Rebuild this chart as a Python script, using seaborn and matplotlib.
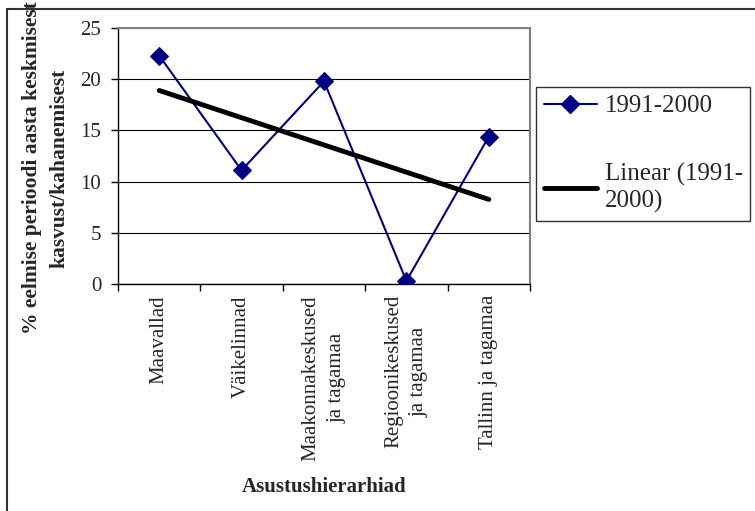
import numpy as np
import pandas as pd
import matplotlib
matplotlib.use("Agg")
import matplotlib.pyplot as plt
from matplotlib.lines import Line2D
import seaborn as sns

categories = ["Maavallad", "Väikelinnad", "Maakonnakeskused\nja tagamaa",
              "Regioonikeskused\nja tagamaa", "Tallinn ja tagamaa"]
values = [22.3, 11.1, 19.8, 0.3, 14.4]
series_name = "1991-2000"
trend_name = "Linear (1991-\n2000)"

sns.set_style("white")
plt.rcParams["font.family"] = ["Liberation Serif", "DejaVu Serif"]

df = pd.DataFrame({"pos": np.arange(len(categories)), "value": values})

fig = plt.figure(figsize=(7.55, 5.11), dpi=100)
ax = fig.add_axes([118 / 755, 1 - 284 / 511, 412 / 755, 256 / 511])

sns.lineplot(data=df, x="pos", y="value", ax=ax, color="#000080", lw=1.5,
             marker="D", markersize=9.5, markeredgecolor="#000080", zorder=3)
sns.regplot(data=df, x="pos", y="value", ax=ax, scatter=False, ci=None,
            truncate=True, line_kws={"color": "black", "lw": 3.5, "zorder": 4})

ax.set_xlim(-0.5, len(categories) - 0.5)
ax.set_ylim(0, 25)
ax.set_yticks(range(0, 26, 5))
ax.yaxis.grid(True, color="black", lw=0.8)
ax.set_axisbelow(True)

ax.set_xticks(np.arange(len(categories)))
ax.set_xticklabels(categories, rotation=90, ha="center", va="top",
                   multialignment="center", fontsize=15, linespacing=1.45)
ax.set_xticks(np.arange(-0.5, len(categories)), minor=True)
ax.tick_params(axis="x", which="major", length=0, pad=8)
ax.tick_params(axis="x", which="minor", length=5, width=1, color="black",
               direction="out", bottom=True)
ax.tick_params(axis="y", length=5, width=1, color="black", direction="out",
               left=True, labelsize=15, pad=7)

for side in ["left", "bottom"]:
    ax.spines[side].set_color("black")
    ax.spines[side].set_linewidth(1)
for side in ["top", "right"]:
    ax.spines[side].set_visible(True)
    ax.spines[side].set_color("#808080")
    ax.spines[side].set_linewidth(1.5)

ax.set_xlabel("Asustushierarhiad", fontsize=15, fontweight="bold", labelpad=12)
ax.set_ylabel("")
fig.text(46 / 755, 1 - 168 / 511,
         "% eelmise perioodi aasta keskmisest\nkasvust/kahanemisest",
         rotation=90, ha="center", va="center", multialignment="center",
         fontsize=15.5, fontweight="bold", linespacing=1.5)

handles = [Line2D([], [], color="#000080", lw=1.5, marker="D", markersize=9.5),
           Line2D([], [], color="black", lw=3.5)]
leg = fig.legend(handles, [series_name, trend_name], loc="center left",
                 bbox_to_anchor=(536 / 755, 1 - 154 / 511), fontsize=18,
                 frameon=True, fancybox=False, edgecolor="black",
                 handlelength=2.15, handletextpad=0.3, labelspacing=1.84,
                 borderpad=0.3, borderaxespad=0)
leg.get_frame().set_linewidth(1)

# outer chart border
fig.add_artist(Line2D([7 / 755, 7 / 755], [0, 1 - 9 / 511], color="#333333", lw=1.5,
                      transform=fig.transFigure))
fig.add_artist(Line2D([7 / 755, 1], [1 - 9 / 511, 1 - 9 / 511], color="#333333",
                      lw=1.5, transform=fig.transFigure))

fig.savefig("out.png", dpi=100)
